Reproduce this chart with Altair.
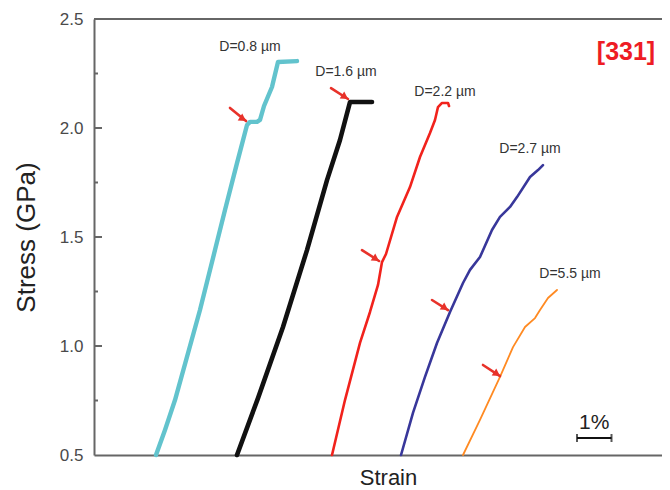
import altair as alt
import pandas as pd

# ---------------- data (strain in %, stress in GPa) ----------------
series = ["D=0.8 µm", "D=1.6 µm", "D=2.2 µm", "D=2.7 µm", "D=5.5 µm"]
colors = ["#62c3cd", "#111111", "#f1221c", "#38379a", "#ff8a22"]
widths = [4.4, 4.6, 2.6, 2.6, 1.8]

strain_08 = [1.797, 2.058, 2.348, 3.072, 3.507, 3.797, 4.145, 4.435, 4.522, 4.725, 4.812, 4.928, 5.159, 5.333, 5.884]
stress_08 = [0.500, 0.615, 0.752, 1.165, 1.440, 1.624, 1.839, 2.014, 2.028, 2.028, 2.037, 2.101, 2.188, 2.303, 2.307]

strain_16 = [4.145, 4.754, 5.478, 6.174, 6.754, 7.130, 7.420, 8.058]
stress_16 = [0.500, 0.761, 1.087, 1.440, 1.761, 1.945, 2.119, 2.119]

strain_22 = [6.899, 7.275, 7.710, 8.000, 8.232, 8.348, 8.464, 8.783, 9.159, 9.449, 9.739, 9.884, 9.971, 10.087, 10.261, 10.290]
stress_22 = [0.500, 0.752, 1.014, 1.156, 1.280, 1.385, 1.422, 1.592, 1.729, 1.867, 1.977, 2.037, 2.096, 2.115, 2.115, 2.101]

strain_27 = [8.899, 9.246, 9.594, 9.942, 10.319, 10.696, 10.899, 11.188, 11.536, 11.768, 12.058, 12.261, 12.638, 12.870, 13.014]
stress_27 = [0.500, 0.693, 0.858, 1.014, 1.156, 1.289, 1.349, 1.408, 1.532, 1.592, 1.638, 1.683, 1.775, 1.807, 1.830]

strain_55 = [10.696, 11.188, 11.768, 12.145, 12.493, 12.783, 12.928, 13.159, 13.420]
stress_55 = [0.500, 0.661, 0.858, 0.995, 1.087, 1.128, 1.165, 1.220, 1.257]

curve_strain = [strain_08, strain_16, strain_22, strain_27, strain_55]
curve_stress = [stress_08, stress_16, stress_22, stress_27, stress_55]

# label positions
label_strain = [4.522, 7.304, 10.174, 12.638, 13.797]
label_stress = [2.372, 2.257, 2.165, 1.904, 1.330]

# red arrows (tail -> tip)
arrow_tail_strain = [3.942, 6.870, 7.768, 9.797, 11.275]
arrow_tail_stress = [2.092, 2.183, 1.440, 1.211, 0.913]
arrow_tip_strain = [4.406, 7.362, 8.261, 10.261, 11.768]
arrow_tip_stress = [2.032, 2.133, 1.390, 1.165, 0.862]

y_major = [0.5, 1.0, 1.5, 2.0, 2.5]
y_minor = [0.75, 1.25, 1.75, 2.25]

orientation_label = "[331]"
orientation_pos = (15.42, 2.349)
scalebar_start = 14.0
scalebar_len = 1.0
scalebar_stress = 0.578
scalebar_text = "1%"
scalebar_text_stress = 0.647

# ---------------- chart ----------------
W, H = 568, 436
XMAX = W / 34.5
FONT = "Liberation Sans"
AX = "#666666"

xs = alt.Scale(domain=[0, XMAX], nice=False, zero=False)
ys = alt.Scale(domain=[0.5, 2.5], nice=False, zero=False)

AXX = alt.Axis(
    title="Strain", labels=False, ticks=False, grid=False,
    domainColor=AX, domainWidth=2,
    titleFont=FONT, titleFontSize=22, titleFontWeight="normal", titleColor="#222",
    titleX=294, titleY=29, titleBaseline="alphabetic", titleAlign="center")
AXY = alt.Axis(
    title="Stress (GPa)", values=y_major, format=".1f", ticks=False, grid=False,
    domainColor=AX, domainWidth=2, labelPadding=11,
    labelFont=FONT, labelFontSize=17, labelColor="#4a4a4a",
    titleFont=FONT, titleFontSize=26, titleFontWeight="normal", titleColor="#222",
    titleAngle=270, titleX=-68, titleY=218, titleAlign="center", titleBaseline="middle")


def X(f):
    return alt.X(f, type="quantitative", scale=xs, axis=AXX)


def Y(f):
    return alt.Y(f, type="quantitative", scale=ys, axis=AXY)


rows = []
for name, sx, sy in zip(series, curve_strain, curve_stress):
    for i, (a, b) in enumerate(zip(sx, sy)):
        rows.append({"series": name, "strain": a, "stress": b, "i": i})
curves = pd.DataFrame(rows)

layers = []

# top frame line and inward ticks
layers.append(
    alt.Chart(pd.DataFrame({"v": [2.5]})).mark_rule(color=AX, strokeWidth=2).encode(
        y=Y("v"), x=alt.value(0), x2=alt.value(W + 10)
    )
)
layers.append(
    alt.Chart(pd.DataFrame({"v": y_major[1:-1]})).mark_rule(color=AX, strokeWidth=2).encode(
        y=Y("v"), x=alt.value(0), x2=alt.value(8)
    )
)
layers.append(
    alt.Chart(pd.DataFrame({"v": y_minor})).mark_rule(color=AX, strokeWidth=2).encode(
        y=Y("v"), x=alt.value(0), x2=alt.value(4)
    )
)

for name, col, w in zip(series, colors, widths):
    layers.append(
        alt.Chart(curves[curves.series == name]).mark_line(
            color=col, strokeWidth=w, strokeJoin="round", strokeCap="round"
        ).encode(x=X("strain"), y=Y("stress"), order="i:Q")
    )

# arrows
arrows = pd.DataFrame({
    "x": arrow_tail_strain, "y": arrow_tail_stress,
    "x2": arrow_tip_strain, "y2": arrow_tip_stress,
})
layers.append(
    alt.Chart(arrows).mark_rule(color="#e8322a", strokeWidth=2.6, strokeCap="round").encode(
        x=X("x"), y=Y("y"), x2="x2:Q", y2="y2:Q"
    )
)
layers.append(
    alt.Chart(arrows).mark_point(
        shape="triangle-right", filled=True, color="#e8322a", opacity=1,
        size=70, angle=33, xOffset=-3, yOffset=-2
    ).encode(x=X("x2"), y=Y("y2"))
)

# D labels
labels = pd.DataFrame({"t": series, "x": label_strain, "y": label_stress})
layers.append(
    alt.Chart(labels).mark_text(
        font=FONT, fontSize=14, color="#333", align="center", baseline="middle"
    ).encode(x=X("x"), y=Y("y"), text="t:N")
)

# orientation label
layers.append(
    alt.Chart(pd.DataFrame({"t": [orientation_label], "x": [orientation_pos[0]], "y": [orientation_pos[1]]}))
    .mark_text(font=FONT, fontSize=25, fontWeight="bold", color="#ee1c24", align="center", baseline="middle")
    .encode(x=X("x"), y=Y("y"), text="t:N")
)

# scale bar
sb = pd.DataFrame({"x": [scalebar_start], "x2": [scalebar_start + scalebar_len], "y": [scalebar_stress]})
layers.append(
    alt.Chart(sb).mark_rule(color="#111", strokeWidth=2).encode(x=X("x"), x2="x2:Q", y=Y("y"))
)
sbt = pd.DataFrame({"x": [scalebar_start, scalebar_start + scalebar_len], "y": [scalebar_stress] * 2})
layers.append(
    alt.Chart(sbt).mark_tick(color="#111", orient="vertical", size=8, thickness=2).encode(x=X("x"), y=Y("y"))
)
layers.append(
    alt.Chart(pd.DataFrame({"t": [scalebar_text], "x": [scalebar_start + scalebar_len / 2], "y": [scalebar_text_stress]}))
    .mark_text(font=FONT, fontSize=21, color="#222", align="center", baseline="middle")
    .encode(x=X("x"), y=Y("y"), text="t:N")
)

chart = alt.layer(*layers).properties(
    width=W, height=H,
    autosize=alt.AutoSizeParams(type="none"),
    padding={"left": 86, "top": 11, "right": 0, "bottom": 35},
    background="white",
).configure_view(stroke=None)

chart.save("out.html", embed_options={"renderer": "svg", "actions": False})
